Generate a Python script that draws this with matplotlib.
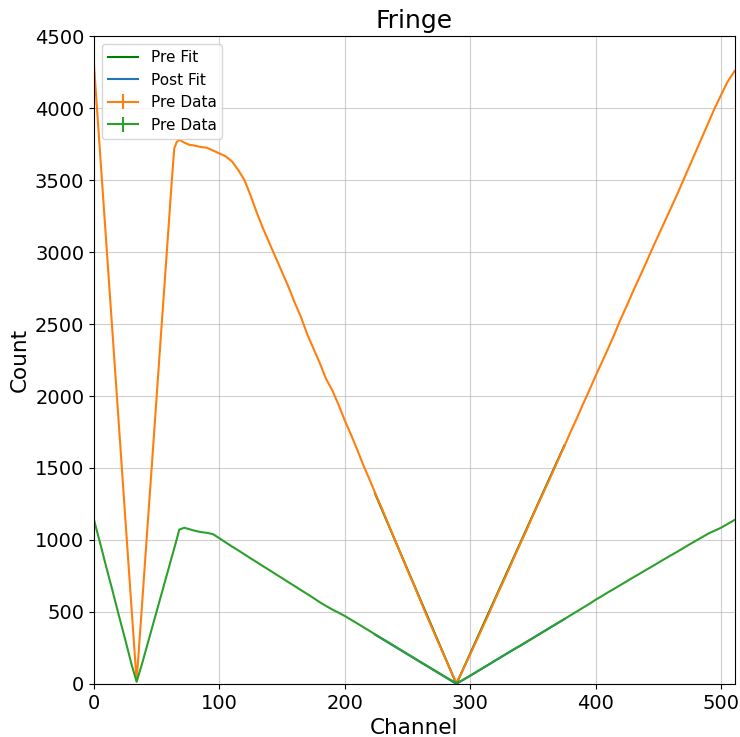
import matplotlib
matplotlib.use("Agg")
import matplotlib.pyplot as plt

channels = [0, 5, 10, 15, 20, 25, 30, 34, 38, 42, 46, 50, 54, 58, 62, 64, 66, 68, 72, 76,
            80, 85, 90, 95, 100, 105, 110, 115, 120, 125, 130, 135, 140, 145, 150, 155, 160,
            165, 170, 175, 180, 185, 190, 195, 200, 205, 210, 215, 220, 225, 230, 235, 240,
            245, 250, 255, 260, 265, 270, 275, 280, 285, 289, 293, 297, 300, 305, 310, 315,
            320, 325, 330, 335, 340, 345, 350, 355, 360, 365, 370, 375, 380, 385, 390, 395,
            400, 405, 410, 415, 420, 425, 430, 435, 440, 445, 450, 455, 460, 465, 470, 475,
            480, 485, 490, 495, 500, 505, 511]

pre_counts = [4300, 3670, 3040, 2410, 1780, 1150, 520, 20, 510, 1010, 1500, 2000, 2500, 2990,
              3490, 3720, 3765, 3780, 3760, 3745, 3740, 3730, 3725, 3705, 3685, 3665, 3630,
              3570, 3500, 3390, 3270, 3160, 3060, 2960, 2860, 2760, 2650, 2550, 2430, 2330,
              2230, 2120, 2040, 1940, 1830, 1730, 1625, 1515, 1415, 1310, 1210, 1105, 1000,
              895, 790, 690, 585, 480, 380, 280, 180, 80, 10, 75, 150, 205, 300, 395, 490,
              590, 685, 780, 880, 975, 1070, 1170, 1265, 1360, 1455, 1555, 1650, 1750, 1845,
              1945, 2040, 2140, 2235, 2330, 2430, 2535, 2630, 2730, 2825, 2920, 3020, 3115,
              3210, 3305, 3400, 3500, 3600, 3700, 3800, 3900, 4000, 4090, 4180, 4260]

post_counts = [1140, 975, 805, 640, 470, 305, 135, 15, 130, 255, 380, 505, 630, 755, 880, 942,
               1005, 1072, 1085, 1075, 1065, 1055, 1050, 1040, 1012, 983, 955, 928, 900, 872,
               845, 817, 790, 762, 735, 707, 680, 652, 625, 597, 568, 542, 517, 495, 472, 446,
               420, 393, 367, 340, 314, 288, 261, 235, 208, 182, 155, 129, 103, 77, 50, 25, 8,
               22, 42, 57, 83, 110, 136, 163, 189, 216, 242, 265, 292, 318, 345, 371, 398, 424,
               450, 477, 503, 530, 556, 585, 610, 637, 662, 688, 714, 740, 765, 791, 816, 842,
               868, 893, 918, 944, 970, 995, 1020, 1045, 1065, 1085, 1110, 1140]

fit_channels = [224, 289, 375]
pre_fit = [1325, 0, 1655]
post_fit = [343, 0, 450]

fig = plt.figure(figsize=(7.4, 7.37), dpi=100)
ax = fig.add_axes([0.127, 0.072, 0.866, 0.879])

ax.plot(fit_channels, pre_fit, color="green", label="Pre Fit", lw=1.5)
ax.plot(fit_channels, post_fit, color="tab:blue", label="Post Fit", lw=1.5)
ax.errorbar(channels, pre_counts, yerr=0, color="tab:orange", label="Pre Data", lw=1.5)
ax.errorbar(channels, post_counts, yerr=0, color="tab:green", label="Pre Data", lw=1.5)

ax.set_xlim(0, 511)
ax.set_ylim(0, 4500)
ax.set_xticks([0, 100, 200, 300, 400, 500])
ax.set_yticks(list(range(0, 4501, 500)))
ax.tick_params(labelsize=14)
ax.grid(True, color="#b0b0b0", alpha=0.6)
ax.set_xlabel("Channel", fontsize=15.5)
ax.set_ylabel("Count", fontsize=15.5)
ax.set_title("Fringe", fontsize=18)
ax.legend(loc="upper left", fontsize=11)

fig.savefig("out.png", dpi=100)
